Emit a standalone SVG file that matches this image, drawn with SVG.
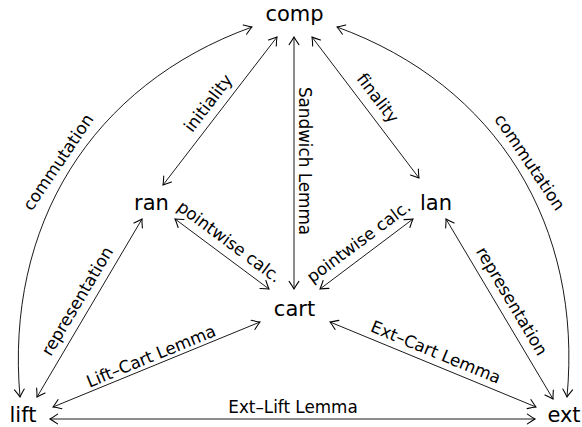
<svg xmlns="http://www.w3.org/2000/svg" width="582" height="427" viewBox="0 0 582 427">
<style>
.node{font-family:"DejaVu Sans",sans-serif;font-size:21px;fill:#000;text-anchor:middle}
.lbl{font-family:"DejaVu Sans",sans-serif;font-size:16.8px;fill:#000;text-anchor:middle}
.edge{fill:none;stroke:#000;stroke-width:0.9;marker-start:url(#tip);marker-end:url(#tip)}
</style>
<defs>
<marker id="tip" markerUnits="userSpaceOnUse" markerWidth="14" markerHeight="14" viewBox="-8 -6 10 12" refX="0" refY="0" orient="auto-start-reverse">
<path d="M-6.5,-4.2 Q-2.2,-1.2 0,0 Q-2.2,1.2 -6.5,4.2" fill="none" stroke="#000" stroke-width="0.9" stroke-linecap="round"/>
</marker>
</defs>
<g id="connectors">
<path class="edge" d="M252,27 C91,85 5,226 20,397"/>
<path class="edge" d="M337,27 C497,85 583,226 567,397"/>
<path class="edge" d="M277,37 L163,185"/>
<path class="edge" d="M312,37 L419,178"/>
<path class="edge" d="M294,37 L294,289"/>
<path class="edge" d="M175,219 L269,289"/>
<path class="edge" d="M413,219 L320,289"/>
<path class="edge" d="M142,219 L37,397"/>
<path class="edge" d="M446,219 L553,399"/>
<path class="edge" d="M53,407 L260,322"/>
<path class="edge" d="M330,322 L536,407"/>
<path class="edge" d="M50,419 L535,419"/>
<text class="lbl" transform="translate(58,162) rotate(-56)" y="6">commutation</text>
<text class="lbl" transform="translate(530,162) rotate(56)" y="6">commutation</text>
<text class="lbl" transform="translate(208,103) rotate(-52.4)" y="6">initiality</text>
<text class="lbl" transform="translate(378,98) rotate(52.8)" y="6">finality</text>
<text class="lbl" transform="translate(305,161) rotate(90)" y="6">Sandwich Lemma</text>
<text class="lbl" transform="translate(229.5,241.5) rotate(36.7)" y="6">pointwise calc.</text>
<text class="lbl" transform="translate(358.5,241.5) rotate(-36.7)" y="6">pointwise calc.</text>
<text class="lbl" transform="translate(77,301) rotate(-59.3)" y="6">representation</text>
<text class="lbl" transform="translate(512,301) rotate(59.3)" y="6">representation</text>
<text class="lbl" transform="translate(151,356) rotate(-22.3)" y="6">Lift–Cart Lemma</text>
<text class="lbl" transform="translate(436,352) rotate(22.4)" y="6">Ext–Cart Lemma</text>
<text class="lbl" x="293" y="413">Ext–Lift Lemma</text>
</g>
<g id="comp"><text class="node" x="294.5" y="21">comp</text></g>
<g id="ran"><text class="node" x="151.5" y="210">ran</text></g>
<g id="lan"><text class="node" x="436" y="210">lan</text></g>
<g id="cart"><text class="node" x="294.5" y="316">cart</text></g>
<g id="lift"><text class="node" x="23" y="422">lift</text></g>
<g id="ext"><text class="node" x="564" y="422">ext</text></g>
</svg>
